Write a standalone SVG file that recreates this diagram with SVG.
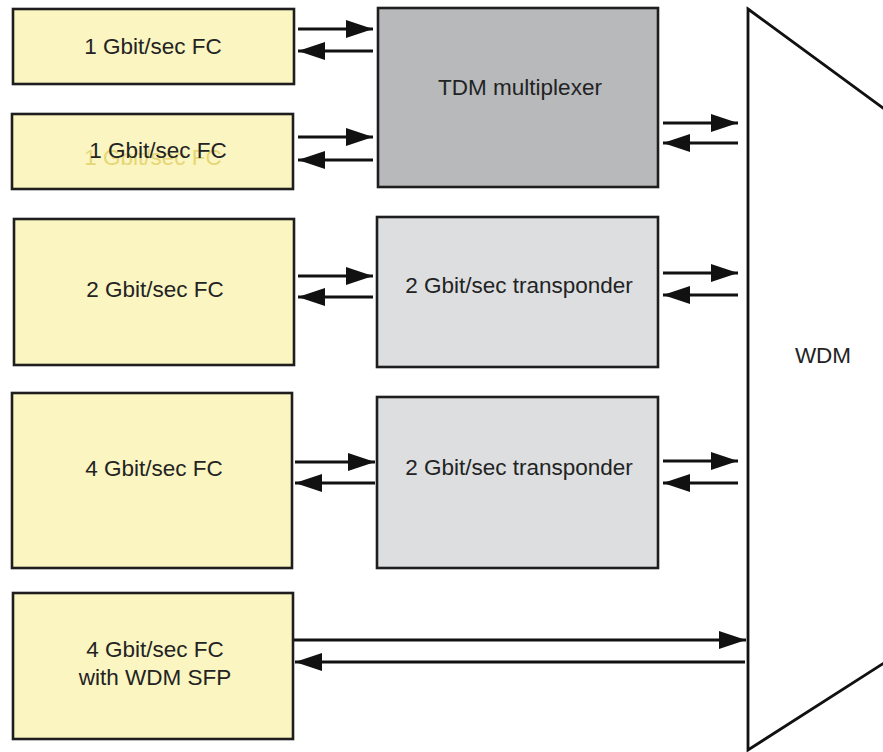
<svg xmlns="http://www.w3.org/2000/svg" width="883" height="752" viewBox="0 0 883 752">
<style>
.box{stroke:#1e1e1e;stroke-width:2.6}
.fc{fill:#fbf5c1}
.tdm{fill:#b7b9bb}
.tr{fill:#dcdee0}
.t{font-family:"Liberation Sans",Arial,sans-serif;font-size:22.5px;fill:#232323;text-anchor:middle}
.ghost{fill:#e6d676}
.c{stroke:#111;stroke-width:2.8;fill:none;marker-end:url(#ah)}
</style>
<defs>
<marker id="ah" markerUnits="userSpaceOnUse" markerWidth="30" markerHeight="20" refX="27" refY="9" orient="auto">
<path d="M0,0 L27,9 L0,18 Z" fill="#111"/>
</marker>
</defs>
<rect width="883" height="752" fill="#fff"/>
<g id="fc1"><rect class="box fc" x="13" y="9" width="281" height="75"/><text class="t" x="153" y="54">1 Gbit/sec FC</text></g>
<g id="fc2"><rect class="box fc" x="12" y="114" width="281" height="75"/><text class="t ghost" x="153" y="165">1 Gbit/sec FC</text><text class="t" x="158" y="158">1 Gbit/sec FC</text></g>
<g id="tdm"><rect class="box tdm" x="378" y="8" width="280" height="179"/><text class="t" x="520" y="95">TDM multiplexer</text></g>
<g id="fc3"><rect class="box fc" x="14" y="219" width="280" height="146"/><text class="t" x="155" y="297">2 Gbit/sec FC</text></g>
<g id="tr1"><rect class="box tr" x="377" y="217" width="281" height="150"/><text class="t" x="519" y="293">2 Gbit/sec transponder</text></g>
<g id="fc4"><rect class="box fc" x="12" y="393" width="280" height="175"/><text class="t" x="154" y="476">4 Gbit/sec FC</text></g>
<g id="tr2"><rect class="box tr" x="377" y="397" width="281" height="171"/><text class="t" x="519" y="475">2 Gbit/sec transponder</text></g>
<g id="fc5"><rect class="box fc" x="13" y="593" width="280" height="146"/><text class="t" x="155" y="657">4 Gbit/sec FC</text><text class="t" x="155" y="685">with WDM SFP</text></g>
<g id="wdm"><polygon points="748,9 887,111 887,661 748,750" fill="#fff" stroke="#111" stroke-width="2.8" stroke-linejoin="miter"/><text class="t" x="823" y="363">WDM</text></g>
<g id="connectors">
<line class="c" x1="298" y1="29" x2="373" y2="29"/>
<line class="c" x1="373" y1="51" x2="298" y2="51"/>
<line class="c" x1="298" y1="137" x2="373" y2="137"/>
<line class="c" x1="373" y1="160" x2="298" y2="160"/>
<line class="c" x1="663" y1="123" x2="738" y2="123"/>
<line class="c" x1="738" y1="143" x2="663" y2="143"/>
<line class="c" x1="298" y1="276" x2="373" y2="276"/>
<line class="c" x1="373" y1="297" x2="298" y2="297"/>
<line class="c" x1="663" y1="273" x2="738" y2="273"/>
<line class="c" x1="738" y1="295" x2="663" y2="295"/>
<line class="c" x1="295" y1="462" x2="375" y2="462"/>
<line class="c" x1="375" y1="483" x2="295" y2="483"/>
<line class="c" x1="663" y1="461" x2="738" y2="461"/>
<line class="c" x1="738" y1="483" x2="663" y2="483"/>
<line class="c" x1="294" y1="640" x2="746" y2="640"/>
<line class="c" x1="745" y1="662" x2="295" y2="662"/>
</g>
</svg>
